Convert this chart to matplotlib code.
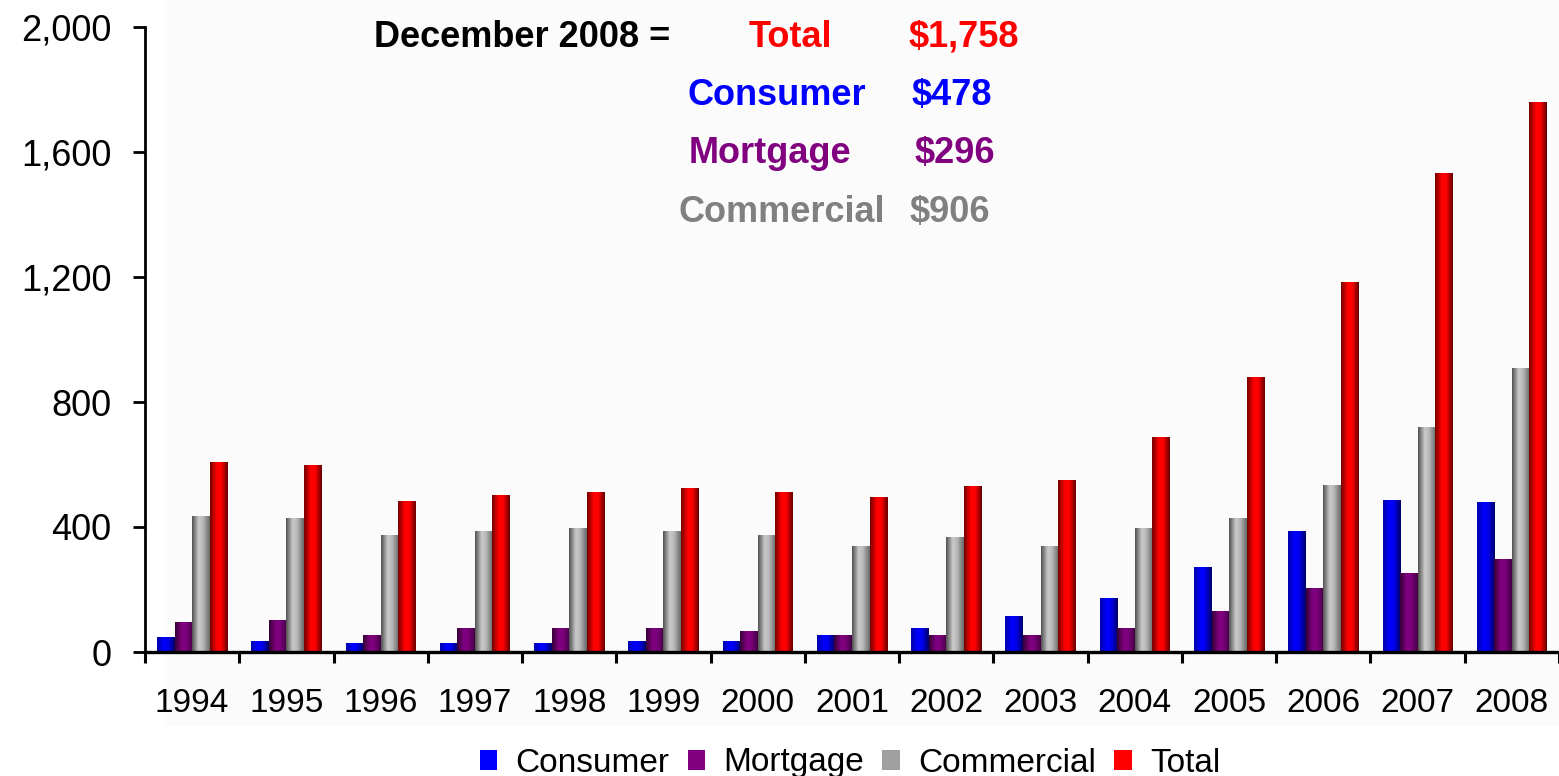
import numpy as np
import matplotlib
matplotlib.use('Agg')
import matplotlib.pyplot as plt
from matplotlib.colors import LinearSegmentedColormap
from matplotlib.patches import Rectangle
from matplotlib.ticker import FixedLocator, StrMethodFormatter

plt.rcParams['font.family'] = ['Liberation Sans', 'DejaVu Sans']

# data ($ billions)
years = ['1994', '1995', '1996', '1997', '1998', '1999', '2000', '2001',
         '2002', '2003', '2004', '2005', '2006', '2007', '2008']
consumer = [45, 35, 26, 26, 26, 35, 35, 54, 74, 112, 170, 269, 386, 485, 478]
mortgage = [93, 102, 54, 74, 74, 74, 64, 54, 54, 54, 74, 131, 204, 252, 296]
commercial = [435, 426, 374, 384, 394, 384, 374, 336, 365, 336, 394, 426, 533, 719, 906]
total = [608, 598, 483, 502, 512, 522, 512, 493, 531, 550, 685, 880, 1181, 1531, 1758]

series = ['Consumer', 'Mortgage', 'Commercial', 'Total']
values = [consumer, mortgage, commercial, total]
base_colors = ['#0000FF', '#800080', '#A0A0A0', '#FF0000']

# cylinder-like shading for each series (left -> right across a bar)
shades = [
    ['#0000A8', '#0000FF', '#0000EE', '#000066'],
    ['#350035', '#800080', '#7C007C', '#440044'],
    ['#505050', '#CACACA', '#B8B8B8', '#686868'],
    ['#720000', '#FF0000', '#FF0000', '#640000'],
]
stops = [0.0, 0.38, 0.62, 1.0]

fig = plt.figure(figsize=(15.59, 7.76), dpi=100, facecolor='white')
# faint grey panel behind the plot, as in the original slide
panel = Rectangle((165 / 1559, 1 - 725 / 776), 1, 1, transform=fig.transFigure,
                  color='#FBFBFB', zorder=-5)
fig.add_artist(panel)

ax = fig.add_axes([145 / 1559, 1 - 652 / 776, 1 - 145 / 1559, (652 - 27) / 776])
ax.set_facecolor('none')
ax.set_zorder(2)

x = np.arange(len(years))
w = 0.186
grad = np.linspace(0, 1, 128).reshape(1, -1)
handles = []
for k, (name, vals) in enumerate(zip(series, values)):
    bars = ax.bar(x + (k - 1.5) * w, vals, width=w, color=base_colors[k],
                  edgecolor='none', label=name, zorder=2)
    handles.append(bars)
    cmap = LinearSegmentedColormap.from_list(name, list(zip(stops, shades[k])))
    for b in bars:
        x0, y0 = b.get_xy()
        ax.imshow(grad, cmap=cmap, extent=(x0, x0 + b.get_width(), y0, y0 + b.get_height()),
                  aspect='auto', interpolation='bilinear', zorder=3)

ax.set_xlim(-0.5, len(years) - 0.5)
ax.set_ylim(0, 2000)

# y axis
ax.set_yticks(np.arange(0, 2001, 400))
ax.yaxis.set_major_formatter(StrMethodFormatter('{x:,.0f}'))
ax.tick_params(axis='y', direction='out', length=9, width=2, pad=15, labelsize=26)

# x axis: tick marks between categories, labels at centres
ax.xaxis.set_major_locator(FixedLocator(np.arange(-0.5, len(years), 1.0)))
ax.xaxis.set_minor_locator(FixedLocator(x))
ax.set_xticklabels([], minor=False)
ax.set_xticklabels(years, minor=True)
ax.tick_params(axis='x', which='major', direction='out', length=8, width=2.2)
ax.tick_params(axis='x', which='minor', length=0, pad=26, labelsize=24)

for s in ['top', 'right']:
    ax.spines[s].set_visible(False)
ax.spines['left'].set_linewidth(2)
ax.spines['bottom'].set_linewidth(2.4)
ax.spines['bottom'].set_zorder(4)

# summary text at the top
def put(px, py, s, c):
    fig.text(px / 1559, 1 - py / 776, s, color=c, fontsize=26, fontweight='bold',
             ha='center', va='baseline')

put(522, 47, 'December 2008 =', 'black')
put(790, 47, 'Total', '#FF0000')
put(964, 47, '$1,758', '#FF0000')
put(777, 105, 'Consumer', '#0000FF')
put(952, 105, '$478', '#0000FF')
put(770, 163, 'Mortgage', '#800080')
put(955, 163, '$296', '#800080')
put(782, 222, 'Commercial', '#808080')
put(950, 222, '$906', '#808080')

fig.legend(handles=handles, labels=series, loc='center', ncol=4,
           bbox_to_anchor=(850 / 1559, 1 - 763 / 776), frameon=False,
           fontsize=24, handlelength=0.52, handleheight=0.55,
           handletextpad=0.55, columnspacing=0.55, borderaxespad=0)

fig.savefig('out.png', dpi=100, facecolor=fig.get_facecolor())
